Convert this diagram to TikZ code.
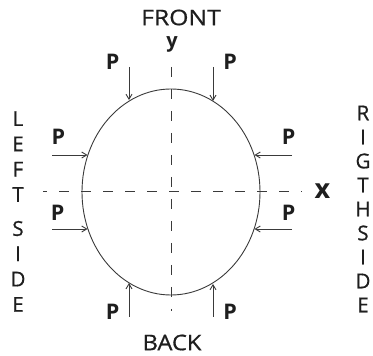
\documentclass[tikz,border=0pt]{standalone}
\usepackage{fontspec}
\setmainfont{Open Sans}
\newfontfamily\heavyreg[FakeBold=0.7]{Open Sans}
\usetikzlibrary{arrows.meta,shapes.geometric}
\definecolor{ink}{HTML}{1E1E1E}
\definecolor{linegray}{HTML}{3A3A3A}
\begin{document}
\begin{tikzpicture}[x=1pt,y=1pt,
  lbl/.style={inner sep=0pt,text=ink,font=\heavyreg\fontsize{21.5}{25}\selectfont},
  plbl/.style={inner sep=0pt,text=ink,font=\fontsize{21.5}{25}\selectfont\bfseries},
  axislbl/.style={inner sep=0pt,text=ink,font=\fontsize{20}{24}\selectfont\bfseries},
  force/.style={draw=linegray,line width=0.9pt,-{Straight Barb[length=5pt,width=6pt]}},
  axis/.style={draw=linegray,line width=0.9pt,dash pattern=on 10pt off 12pt},
  sideword/.style={inner sep=0pt,text=ink,align=center}]
\useasboundingbox (0,0) rectangle (373,356);
% axes
\coordinate (xl) at (43,165);
\coordinate (xr) at (302,165);
\coordinate (yt) at (171,289);
\coordinate (yb) at (171,45);
\draw[axis,dash phase=6pt] (xl) -- (xr);
\draw[axis] (yt) -- (yb);
% body
\node[ellipse,draw=linegray,line width=0.9pt,minimum width=178pt,minimum height=206pt,inner sep=0pt] (E) at (171,164) {};
% labels
\node[lbl] (front) at (181,338.5) {\scalebox{1.15}[1]{FRONT}};
\node[lbl] (back) at (172,13.5) {\scalebox{1.1}[1]{BACK}};
\node[axislbl] (ylab) at (172,312) {y};
\node[axislbl,font=\fontsize{27}{28}\selectfont\bfseries] (xlab) at (322.5,165) {x};
\node[sideword,font=\heavyreg\fontsize{20.5}{25.3}\selectfont] (left) at (18,144.5) {L\\E\\F\\T\\[8.7pt]S\\I\\D\\E};
\node[sideword,font=\heavyreg\fontsize{20.5}{24}\selectfont] (right) at (363,147) {R\\I\\G\\T\\H\\S\\I\\D\\E};
% force starts
\coordinate (s1) at (129,289);
\coordinate (s2) at (213,289);
\coordinate (s3) at (52,201);
\coordinate (s4) at (292,201);
\coordinate (s5) at (52,127);
\coordinate (s6) at (292,127);
\coordinate (s7) at (129,39);
\coordinate (s8) at (213,39);
\draw[force] (s1) -- (s1 |- E.114.8);
\draw[force] (s2) -- (s2 |- E.65.2);
\draw[force] (s3) -- (s3 -| E.156);
\draw[force] (s4) -- (s4 -| E.24);
\draw[force] (s5) -- (s5 -| E.204);
\draw[force] (s6) -- (s6 -| E.336);
\draw[force] (s7) -- (s7 |- E.245.2);
\draw[force] (s8) -- (s8 |- E.294.8);
% P labels
\node[plbl] (p1) at (112.5,294) {P};
\node[plbl] (p2) at (230,294) {P};
\node[plbl] (p3) at (58.5,219) {P};
\node[plbl] (p4) at (288.5,219) {P};
\node[plbl] (p5) at (57.5,143) {P};
\node[plbl] (p6) at (288.5,143) {P};
\node[plbl] (p7) at (112.5,44.5) {P};
\node[plbl] (p8) at (230,44.5) {P};
\end{tikzpicture}
\end{document}
